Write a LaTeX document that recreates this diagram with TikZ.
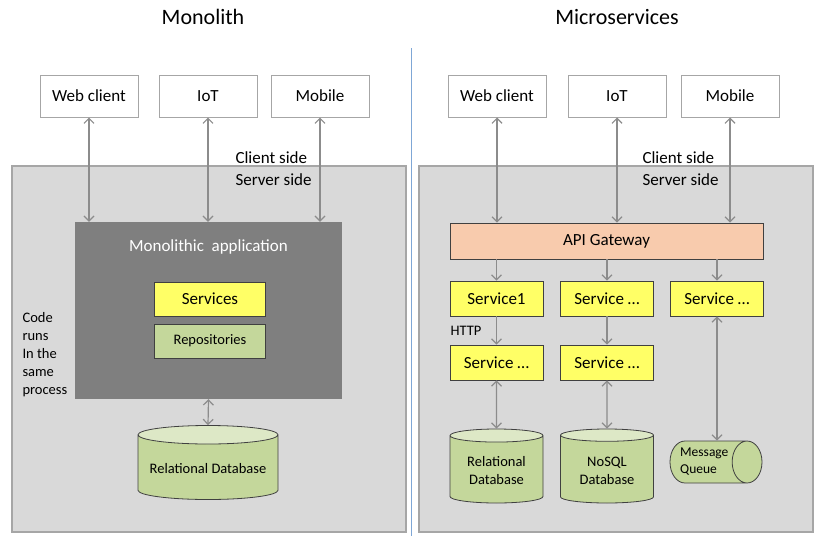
\documentclass[tikz,border=0pt]{standalone}
\usepackage{fontspec}
\setmainfont{Carlito}
\usetikzlibrary{shapes.geometric,arrows.meta}
\definecolor{panelfill}{HTML}{D9D9D9}
\definecolor{paneledge}{HTML}{A6A6A6}
\definecolor{appfill}{HTML}{7F7F7F}
\definecolor{svcfill}{HTML}{FFFF66}
\definecolor{repofill}{HTML}{C4D79B}
\definecolor{dbtop}{HTML}{DDE8C6}
\definecolor{apifill}{HTML}{F8CBAD}
\definecolor{boxedge}{HTML}{404040}
\definecolor{linkgray}{HTML}{8C8C8C}
\definecolor{divblue}{HTML}{7FA7D6}
\tikzset{
  title/.style={font=\fontsize{22}{26}\selectfont},
  client/.style={draw=paneledge,fill=white,line width=1pt,minimum width=98pt,minimum height=42pt,font=\fontsize{17}{20}\selectfont},
  panel/.style={draw=paneledge,fill=panelfill,line width=1.2pt,minimum width=394pt,minimum height=366pt},
  side/.style={anchor=west,font=\fontsize{17}{20}\selectfont},
  small/.style={font=\fontsize{14.5}{18}\selectfont},
  svc/.style={draw=boxedge,fill=svcfill,line width=0.8pt,minimum width=93pt,minimum height=35pt,font=\fontsize{17}{20}\selectfont},
  db/.style={cylinder,shape border rotate=90,anchor=shape center,draw=boxedge,line width=0.8pt,
    cylinder uses custom fill,cylinder body fill=repofill,cylinder end fill=dbtop,
    align=center,font=\fontsize{14.5}{18}\selectfont},
  link/.style={draw=linkgray,line width=1.2pt}
}
\begin{document}
\begin{tikzpicture}[x=1pt,y=-1pt,>={Straight Barb[length=5pt,width=10pt]}]
  \useasboundingbox (0,0) rectangle (828,536);
  \node[title] (monotitle) at (203,17) {Monolith};
  \node[title] (microtitle) at (617,17) {Microservices};
  \draw[divblue,line width=1pt] (411,48) -- (411,536);
  \node[panel] (monopanel) at (209,349) {};
  \node[panel] (micropanel) at (616,349) {};
  \foreach \n/\x/\t in {webl/89/Web client,iotl/208/IoT,mobl/320/Mobile,
                        webr/497/Web client,iotr/617/IoT,mobr/730/Mobile}
  \node[client] (\n) at (\x,96) {\t};
  \node[side] (clientl) at (232,158) {Client side};
  \node[side] (serverl) at (232,180) {Server side};
  \node[side] (clientr) at (639,158) {Client side};
  \node[side] (serverr) at (639,180) {Server side};

  \node[fill=appfill,minimum width=267pt,minimum height=177pt] (app) at (208.5,310.5) {};
  \node[text=white,font=\fontsize{17}{20}\selectfont] (apptitle) at (208.5,247) {Monolithic\ \ application};
  \node[svc,minimum width=111pt,minimum height=34pt] (services) at (210,299) {Services};
  \node[svc,fill=repofill,minimum width=111pt,minimum height=34pt,small] (repos) at (210,341) {Repositories};
  \node[small,align=left,anchor=west] (coderuns) at (19,355) {Code\\runs\\In the\\same\\process};
  \node[db,aspect=0.15,minimum width=140pt,minimum height=74pt] (mdb) at (208,462.5) {Relational Database};
  \foreach \n in {webl,iotl,mobl}
  \draw[link,<->] (\n.south) -- (\n.south |- app.north);
  \draw[link,<->] (app.south) -- (mdb.north);

  \node[svc,fill=apifill,minimum width=313pt,minimum height=36pt] (api) at (606.5,241) {API Gateway};
  \node[svc] (svca) at (496.5,298.5) {Service1};
  \node[svc] (svcb) at (607,298.5) {Service \dots};
  \node[svc] (svcc) at (717,298.5) {Service \dots};
  \node[svc] (svcd) at (496.5,362.5) {Service \dots};
  \node[svc] (svce) at (607,362.5) {Service \dots};
  \node[small,anchor=west] (http) at (447,331) {HTTP};
  \node[db,aspect=0.2,minimum width=93pt,minimum height=74pt] (rdb) at (496.5,466) {Relational\\Database};
  \node[db,aspect=0.2,minimum width=93pt,minimum height=74pt] (ndb) at (607,466) {NoSQL\\Database};
  \node[cylinder,anchor=shape center,aspect=0.875,draw=boxedge,line width=0.8pt,fill=repofill,minimum width=42pt,minimum height=76pt,
    align=left,font=\fontsize{13.5}{17}\selectfont] (queue) at (716,462) {Message\\Queue};
  \foreach \n in {webr,iotr,mobr}
  \draw[link,<->] (\n.south) -- (\n.south |- api.north);
  \foreach \n in {svca,svcb,svcc}
  \draw[link,->] (\n.north |- api.south) -- (\n.north);
  \draw[link,->] (svca) -- (svcd);
  \draw[link,->] (svcb) -- (svce);
  \draw[link,<->] (svcd.south) -- (rdb.north);
  \draw[link,<->] (svce.south) -- (ndb.north);
  \draw[link,<->] (svcc.south) -- (svcc.south |- queue.north);
\end{tikzpicture}
\end{document}
